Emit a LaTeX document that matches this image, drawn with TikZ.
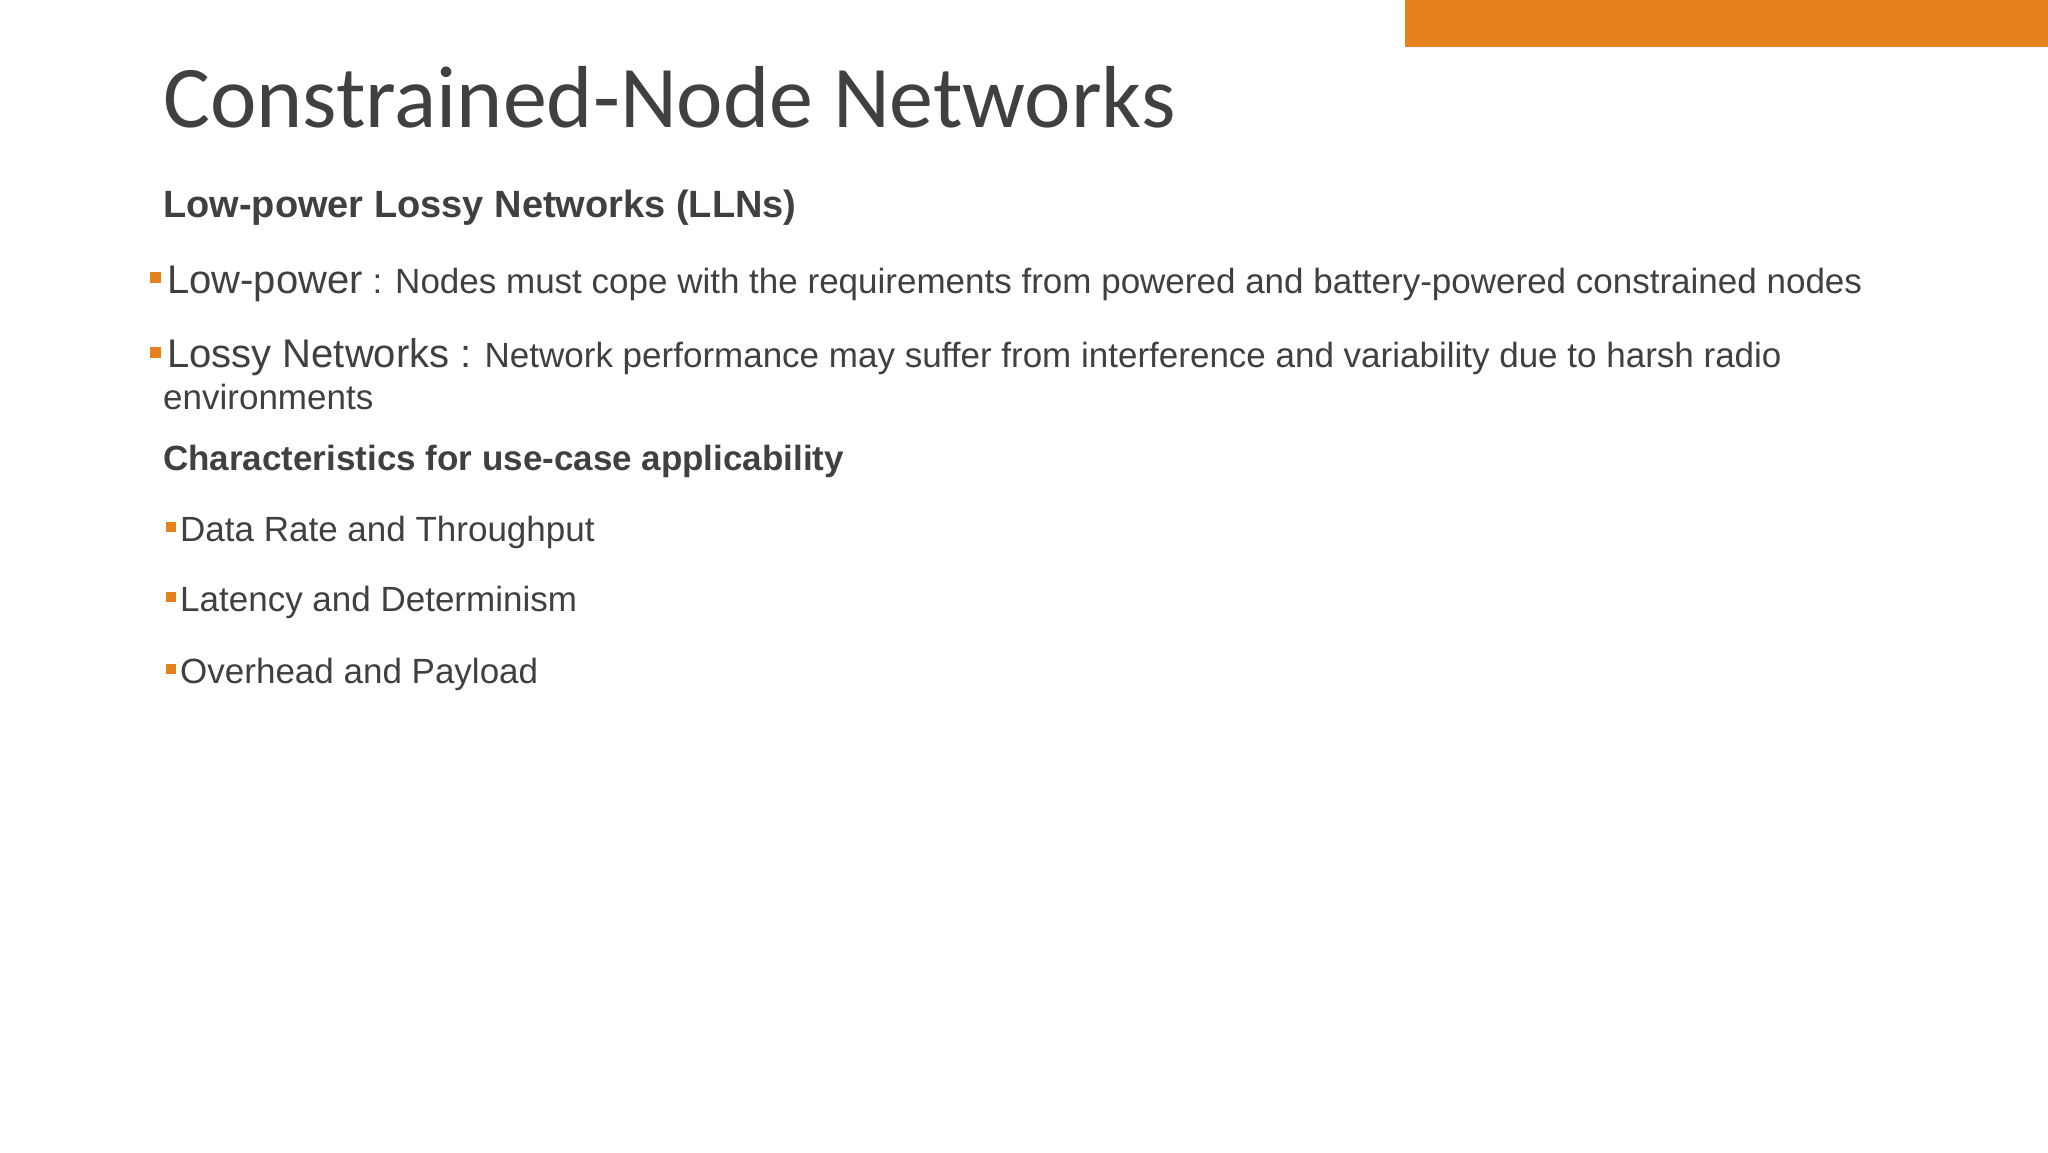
\documentclass[tikz,border=0pt]{standalone}
\usepackage{fontspec}
\setmainfont{Liberation Sans}
\newfontfamily\titlefont{Carlito}
\definecolor{tx}{HTML}{404040}
\definecolor{orng}{HTML}{E6821E}
\begin{document}
\begin{tikzpicture}[x=1pt,y=-1pt,
  txt/.style={anchor=base west,inner sep=0pt,text=tx,font=\fontsize{35}{42}\selectfont},
  bul/.style={fill=orng,draw=none}]
\useasboundingbox (0,0) rectangle (2048,1152);
\fill[white] (0,0) rectangle (2048,1152);
\fill[orng] (1405,0) rectangle (2048,47);
\node[txt,font=\titlefont\fontsize{88}{100}\selectfont] (title) at (163,127) {Constrained-Node Networks};
\node[txt,font=\bfseries\fontsize{38}{44}\selectfont] (h1) at (163,217) {Low-power Lossy Networks (LLNs)};
\fill[bul] (150,272) rectangle (161,283);
\node[txt] (b1) at (167,293) {{\fontsize{40}{46}\selectfont Low-power} : Nodes must cope with the requirements from powered and battery-powered constrained nodes};
\fill[bul] (150,347) rectangle (161,358);
\node[txt] (b2) at (167,367) {{\fontsize{40}{46}\selectfont Lossy Networks :} Network performance may suffer from interference and variability due to harsh radio};
\node[txt] (b2b) at (163,409) {environments};
\node[txt,font=\bfseries\fontsize{35}{42}\selectfont] (h2) at (163,470) {Characteristics for use-case applicability};
\fill[bul] (166,522) rectangle (176,532);
\node[txt] (s1) at (180,541) {Data Rate and Throughput};
\fill[bul] (166,592) rectangle (176,602);
\node[txt] (s2) at (180,611) {Latency and Determinism};
\fill[bul] (166,664) rectangle (176,674);
\node[txt] (s3) at (180,683) {Overhead and Payload};
\end{tikzpicture}
\end{document}
